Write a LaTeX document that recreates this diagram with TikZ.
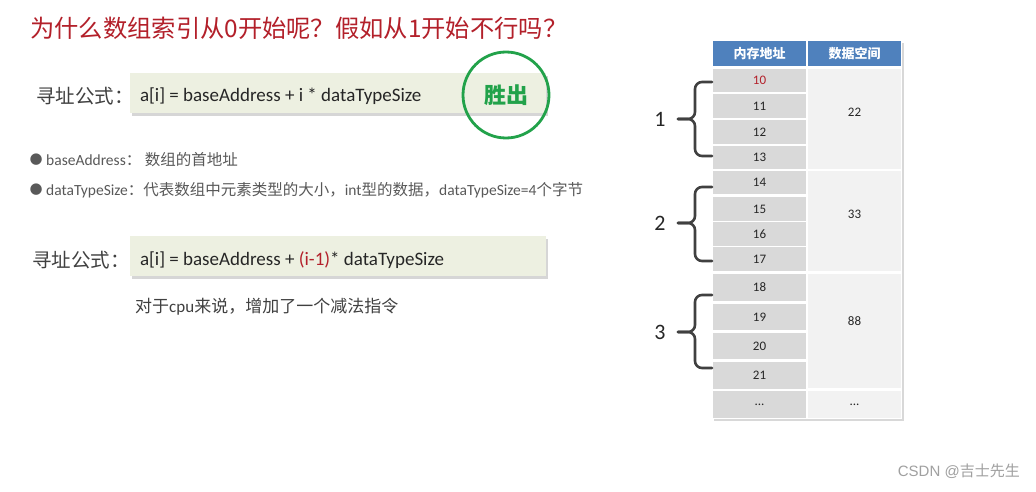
\documentclass[tikz,border=0pt]{standalone}
\usepackage{fontspec}
\setmainfont{Carlito}
\newfontfamily\cjk{Noto Sans CJK SC}
\newfontfamily\symfont{DejaVu Sans}
\newfontfamily\wmfont{Liberation Sans}
\usepackage{tikz}
\usetikzlibrary{positioning,shadows}
\definecolor{titlered}{HTML}{B3202A}
\definecolor{boxfill}{HTML}{EDF0E1}
\definecolor{wingreen}{HTML}{22A24A}
\definecolor{headblue}{HTML}{4F81BD}
\definecolor{cellgray}{HTML}{D9D9D9}
\definecolor{cellwhite}{HTML}{F2F2F2}
\definecolor{txtdark}{HTML}{262626}
\definecolor{txtgray}{HTML}{595959}
\definecolor{bracegray}{HTML}{404040}
\definecolor{wmgray}{HTML}{A0A0A0}
\newcommand\zh[1]{{\cjk #1}}
\newcommand\pxsize[1]{\fontsize{#1}{#1}\selectfont}
\tikzset{
  formbox/.style={fill=boxfill, minimum width=416, minimum height=40, inner sep=0pt,
                  drop shadow={shadow xshift=2pt, shadow yshift=-3pt, opacity=0.35, fill=black!45}},
  formtext/.style={anchor=west, inner sep=0pt, text=txtdark, font=\pxsize{19}},
  formlab/.style={anchor=west, inner sep=0pt, text=bracegray, font=\cjk\pxsize{19.5}},
  bullettext/.style={anchor=west, inner sep=0pt, text=txtgray, font=\pxsize{15.5}},
  bulletdot/.style={inner sep=0pt, text=txtgray, font=\symfont\pxsize{15}},
  head/.style={fill=headblue, minimum width=93, minimum height=25, inner sep=0pt,
               text=white, font=\cjk\bfseries\pxsize{13}},
  addr/.style={fill=cellgray, minimum width=93, inner sep=0pt, text=txtdark, font=\pxsize{13}},
  data/.style={fill=cellwhite, minimum width=93, inner sep=0pt},
  datatext/.style={inner sep=0pt, text=txtdark, font=\pxsize{13}},
  bracestyle/.style={draw=bracegray, line width=2.6, rounded corners=7, line cap=round},
  grouplab/.style={inner sep=0pt, text=txtdark, font=\pxsize{22}},
}

\begin{document}
\begin{tikzpicture}[x=1pt,y=-1pt]
  \useasboundingbox (0,0) rectangle (1036,492);
  \fill[white] (0,0) rectangle (1036,492);
  % title
  \node[anchor=west, inner sep=0pt, text=titlered, font=\cjk\pxsize{24.3}] (title) at (30,28)
       {为什么数组索引从0开始呢？假如从1开始不行吗？};
  % first formula
  \node[formlab] (lab1) at (36,96) {寻址公式：};
  \node[formbox] (box1) at (338,93) {};
  \node[formtext] (f1) at ([xshift=10pt,yshift=-3pt]box1.west) {a[i] = baseAddress + i * dataTypeSize};
  \node[circle, draw=wingreen, line width=2.8, minimum size=86, inner sep=0pt,
        text=wingreen, font=\cjk\bfseries\pxsize{22}] (win) at (506,95) {胜出};
  % bullets
  \node[bullettext] (b1) at (46,160) {baseAddress\zh{： 数组的首地址}};
  \node[bullettext] (b2) at (46,190)
       {dataTypeSize\zh{：代表数组中元素类型的大小，}int\zh{型的数据，}dataTypeSize=4\zh{个字节}};
  \node[bulletdot, left=3pt of b1] (d1) {●};
  \node[bulletdot, left=3pt of b2] (d2) {●};
  % second formula
  \node[formlab] (lab2) at (32,260) {寻址公式：};
  \node[formbox] (box2) at (338,256) {};
  \node[formtext] (f2) at ([xshift=10pt,yshift=-4pt]box2.west)
       {a[i] = baseAddress + \textcolor{titlered}{(i-1)}* dataTypeSize};
  \node[anchor=west, inner sep=0pt, text=bracegray, font=\pxsize{17}] (cpu) at (135,307)
       {\zh{对于}cpu\zh{来说，增加了一个减法指令}};
  % memory table
  \fill[white, drop shadow={shadow xshift=2pt, shadow yshift=-2pt, opacity=0.3, fill=black!50}]
       (712,41) rectangle (902,419);
  \node[head] (hd1) at (759.5,54) {内存地址};
  \node[head] (hd2) at (854.5,54) {数据空间};
  \node[addr, minimum height=23, text=titlered] (a10) at (759.5,80.5) {10};
  \foreach \n/\ya/\yb in {11/94/118, 12/120/144, 13/146/169, 14/171/194, 15/197/221,
                          16/222/246, 17/247/271, 18/274/301, 19/304/330, 20/333/359, 21/362/389}
    \node[addr, minimum height={\yb-\ya}] (a\n) at (759.5,{(\ya+\yb)/2}) {\n};
  \node[addr, minimum height=27] (adots) at (759.5,404.5) {...};
  \node[data, minimum height=100] (v22) at (854.5,119) {};
  \node[data, minimum height=100] (v33) at (854.5,221) {};
  \node[data, minimum height=114] (v88) at (854.5,331) {};
  \node[data, minimum height=27] (vdots) at (854.5,404.5) {};
  \node[datatext] (t22) at ([yshift=7pt]v22.center) {22};
  \node[datatext] (t33) at ([yshift=7pt]v33.center) {33};
  \node[datatext] (t88) at ([yshift=10pt]v88.center) {88};
  \node[datatext] (tdots) at (vdots.center) {...};
  % group braces
  \foreach \yt/\ym/\yb/\k in {82/119/156/1, 187/223/261/2, 295/332/368/3}{
    \draw[bracestyle] (712,\yt) -- (695,\yt) -- (695,\ym) -- (678,\ym);
    \draw[bracestyle] (678,\ym) -- (695,\ym) -- (695,\yb) -- (712,\yb);
    \node[grouplab] (g\k) at (660,\ym) {\k};
  }
  % watermark
  \node[anchor=east, inner sep=0pt, text=wmgray, font=\wmfont\pxsize{15}] (wm) at (1020,471)
       {CSDN @\zh{吉士先生}};
\end{tikzpicture}
\end{document}
